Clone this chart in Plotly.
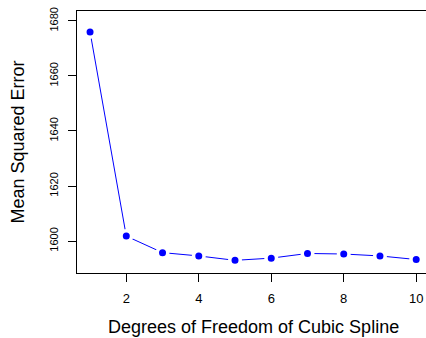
import plotly.graph_objects as go

degrees = [1, 2, 3, 4, 5, 6, 7, 8, 9, 10]
mse = [1676.0, 1601.8, 1595.8, 1594.6, 1593.0, 1593.8, 1595.5, 1595.3, 1594.6, 1593.3]
x_ticks = [2, 4, 6, 8, 10]
y_ticks = [1600, 1620, 1640, 1660, 1680]
x_title = "Degrees of Freedom of Cubic Spline"
y_title = "Mean Squared Error"

fig = go.Figure()
fig.add_trace(go.Scatter(
    x=degrees, y=mse, mode="lines+markers",
    line=dict(color="#0000ff", width=1),
    marker=dict(color="#0000ff", size=10.5, line=dict(color="white", width=3.5)),
    showlegend=False,
))

font = dict(family="Liberation Sans, Arial, sans-serif", color="black")
fig.update_layout(
    width=426, height=338,
    margin=dict(l=77, r=0, t=11, b=65),
    paper_bgcolor="white", plot_bgcolor="white",
    font=dict(size=12, **font),
    xaxis=dict(
        range=[0.64, 10.27], tickvals=x_ticks, ticktext=[str(v) for v in x_ticks],
        showgrid=False, zeroline=False, showline=True, mirror=True,
        linecolor="black", linewidth=1, ticks="outside", ticklen=8, tickcolor="black",
        tickfont=dict(size=13), ticklabelstandoff=5,
    ),
    yaxis=dict(
        range=[1588.4, 1683.6], tickvals=y_ticks, ticktext=[str(v) for v in y_ticks],
        showgrid=False, zeroline=False, showline=True, mirror=False,
        linecolor="black", linewidth=1, ticks="outside", ticklen=8, tickcolor="black",
        tickangle=-90, tickfont=dict(size=11), ticklabelstandoff=6,
    ),
    annotations=[
        dict(text=x_title, xref="paper", yref="paper", x=(253.5 - 77) / 349, y=0,
             xanchor="center", yanchor="middle", yshift=-54, showarrow=False,
             font=dict(size=18)),
        dict(text=y_title, xref="paper", yref="paper", x=0, y=0.5,
             xanchor="center", yanchor="middle", xshift=-59.5, textangle=-90,
             showarrow=False, font=dict(size=18)),
    ],
)
fig.write_html("out.html")
